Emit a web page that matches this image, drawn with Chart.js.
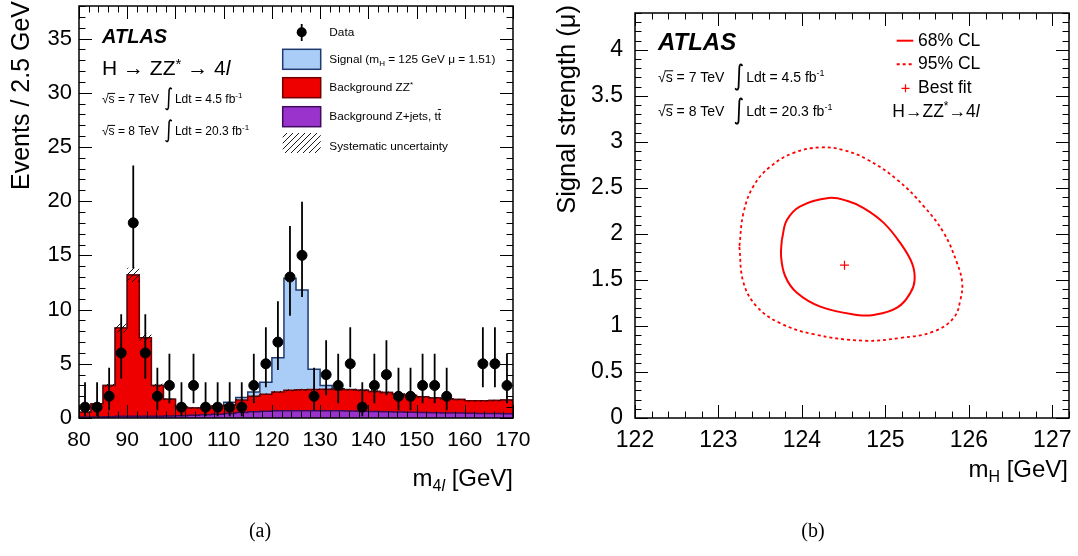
<!DOCTYPE html>
<html>
<head>
<meta charset="utf-8">
<script src="https://cdn.jsdelivr.net/npm/chart.js@4.4.1/dist/chart.umd.min.js"></script>
<style>
  html, body { margin: 0; padding: 0; background: #fff; }
  body { width: 1078px; height: 556px; position: relative; overflow: hidden; }
  canvas { position: absolute; top: 0; }
  #left { left: 0; }
  #right { left: 539px; }
  .cap { position: absolute; top: 519px; width: 60px; text-align: center;
         font-family: "Liberation Serif", serif; font-size: 20px; }
</style>
</head>
<body>
<canvas id="left" width="539" height="556"></canvas>
<canvas id="right" width="539" height="556"></canvas>
<div class="cap" style="left:230px">(a)</div>
<div class="cap" style="left:783px">(b)</div>
<script>
// ---------- (a) m4l distribution ----------
const binLow = [80, 82.5, 85, 87.5, 90, 92.5, 95, 97.5, 100, 102.5, 105, 107.5,
  110, 112.5, 115, 117.5, 120, 122.5, 125, 127.5, 130, 132.5, 135, 137.5,
  140, 142.5, 145, 147.5, 150, 152.5, 155, 157.5, 160, 162.5, 165, 167.5];
const binWidth = 2.5;

const bkgZjets = [0.1, 0.1, 0.12, 0.15, 0.15, 0.15, 0.15, 0.18, 0.2, 0.25, 0.3, 0.35,
  0.42, 0.5, 0.58, 0.63, 0.66, 0.68, 0.68, 0.68, 0.67, 0.66, 0.65, 0.63,
  0.61, 0.58, 0.56, 0.53, 0.51, 0.49, 0.47, 0.45, 0.44, 0.42, 0.41, 0.4];
const bkgZZ = [0.42, 1.22, 2.88, 8.15, 13.05, 7.25, 2.85, 1.54, 0.8, 0.68, 0.6, 0.75,
  0.78, 1.15, 1.42, 1.57, 1.74, 1.87, 1.92, 1.95, 1.98, 1.97, 1.95, 1.92,
  1.84, 1.77, 1.64, 1.55, 1.44, 1.36, 1.3, 1.25, 1.16, 1.16, 1.21, 1.25];
const signal = [0, 0, 0, 0, 0, 0, 0, 0, 0, 0, 0, 0,
  0.25, 0.25, 0.4, 1.1, 3.15, 10.35, 9.2, 1.87, 0.35, 0.07, 0.02, 0,
  0, 0, 0, 0, 0, 0, 0, 0, 0, 0, 0, 0];
const sysUnc = [0.03, 0.06, 0.15, 0.42, 0.65, 0.38, 0.15, 0.08, 0.05, 0.05, 0.05, 0.05,
  0.06, 0.07, 0.08, 0.09, 0.1, 0.1, 0.1, 0.1, 0.1, 0.1, 0.1, 0.1,
  0.1, 0.1, 0.09, 0.09, 0.08, 0.08, 0.08, 0.07, 0.07, 0.07, 0.07, 0.07];

const dataCounts = [1, 1, 2, 6, 18, 6, 2, 3, 1, 3, 1, 1,
  1, 1, 3, 5, 7, 13, 15, 2, 4, 3, 5, 1,
  3, 4, 2, 2, 3, 3, 2, 0, 0, 5, 5, 3];
const dataErrLow = [0.17, 0.17, 0.71, 3.62, 13.8, 3.62, 0.71, 1.37, 0.17, 1.37, 0.17, 0.17,
  0.17, 0.17, 1.37, 2.84, 4.42, 9.44, 11.17, 0.71, 2.09, 1.37, 2.84, 0.17,
  1.37, 2.09, 0.71, 0.71, 1.37, 1.37, 0.71, null, null, 2.84, 2.84, 1.37];
const dataErrHigh = [3.3, 3.3, 4.64, 9.58, 23.3, 9.58, 4.64, 5.92, 3.3, 5.92, 3.3, 3.3,
  3.3, 3.3, 5.92, 8.38, 10.77, 17.7, 19.95, 4.64, 7.16, 5.92, 8.38, 3.3,
  5.92, 7.16, 4.64, 4.64, 5.92, 5.92, 4.64, null, null, 8.38, 8.38, 5.92];

// ---------- (b) likelihood contours (start on the flat left side) ----------
const cl68Mass = [123.76, 123.75, 123.80, 123.94, 124.22, 124.66, 124.86, 125.14, 125.30,
  125.35, 125.32, 125.18, 124.98, 124.74, 124.54, 124.32, 123.98, 123.82];
const cl68Mu = [1.94, 1.76, 1.54, 1.36, 1.21, 1.12, 1.12, 1.20, 1.36,
  1.50, 1.68, 1.90, 2.12, 2.28, 2.36, 2.39, 2.30, 2.15];
const cl95Mass = [123.25, 123.30, 123.46, 123.74, 124.14, 124.74, 125.18, 125.58, 125.82,
  125.90, 125.92, 125.86, 125.70, 125.46, 125.14, 124.78, 124.50, 124.22, 123.90,
  123.62, 123.42, 123.30];
const cl95Mu = [1.86, 1.47, 1.21, 1.03, 0.91, 0.84, 0.87, 0.94, 1.09,
  1.29, 1.47, 1.68, 2.01, 2.30, 2.59, 2.81, 2.91, 2.94, 2.88,
  2.73, 2.52, 2.23];
const bestFitMass = 124.51;
const bestFitMu = 1.66;

// ---------- styling helpers ----------
const FONT = '"Liberation Sans", Arial, sans-serif';
const fnt = (size, style) => (style ? style + ' ' : '') + size + 'px ' + FONT;

const colSignal = '#a9cdf7', colSignalLine = '#1f3a70';
const colZZ = '#ee0000', colZZLine = '#700000';
const colZjets = '#9933cc', colZjetsLine = '#3e0b5e';

const hatch = (() => {
  const c = document.createElement('canvas');
  c.width = 6; c.height = 6;
  const g = c.getContext('2d');
  g.strokeStyle = '#000';
  g.lineWidth = 0.9;
  g.beginPath();
  g.moveTo(0, 6); g.lineTo(6, 0);
  g.moveTo(-1, 1); g.lineTo(1, -1);
  g.moveTo(5, 7); g.lineTo(7, 5);
  g.stroke();
  return g.createPattern(c, 'repeat');
})();

function drawRuns(ctx, x, y, parts, align) {
  ctx.textAlign = 'left';
  let w = 0;
  for (const p of parts) { ctx.font = fnt(p.s, p.f); w += ctx.measureText(p.t).width; }
  let cx = align === 'right' ? x - w : x;
  for (const p of parts) {
    ctx.font = fnt(p.s, p.f);
    ctx.fillText(p.t, cx, y + (p.dy || 0));
    cx += ctx.measureText(p.t).width;
  }
  return cx;
}

function integralSign(ctx, x, yc, h) {
  const t = yc - h / 2, b = yc + h / 2;
  ctx.save();
  ctx.lineWidth = Math.max(1.2, h / 15);
  ctx.lineCap = 'round';
  ctx.beginPath();
  ctx.moveTo(x + h * 0.17, t + h * 0.06);
  ctx.quadraticCurveTo(x + h * 0.1, t - h * 0.03, x + h * 0.07, t + h * 0.12);
  ctx.lineTo(x + h * 0.04, b - h * 0.12);
  ctx.quadraticCurveTo(x + h * 0.01, b + h * 0.03, x - h * 0.07, b - h * 0.06);
  ctx.stroke();
  ctx.restore();
}

function lumiLine(ctx, x, y, size, energy, lumi, intX) {
  ctx.textAlign = 'left';
  ctx.font = fnt(size);
  ctx.fillText('√', x, y);
  const rw = ctx.measureText('√').width;
  ctx.fillText('s = ' + energy + ' TeV', x + rw, y);
  const sw = ctx.measureText('s').width;
  ctx.lineWidth = 1;
  ctx.beginPath();
  ctx.moveTo(x + rw - 1, y - size * 0.8);
  ctx.lineTo(x + rw + sw + 0.5, y - size * 0.8);
  ctx.stroke();
  integralSign(ctx, intX, y - size * 0.35, size * 1.9);
  drawRuns(ctx, intX + size * 0.62, y, [
    { t: 'Ldt = ' + lumi + ' fb', s: size },
    { t: '-1', s: Math.round(size * 0.65), dy: -size * 0.45 }
  ]);
}

function axisFrame(cfg) {
  return {
    id: 'axisFrame',
    afterDatasetsDraw(chart) {
      const { ctx, chartArea: a } = chart;
      const xs = chart.scales.x, ys = chart.scales.y;
      ctx.save();
      ctx.strokeStyle = '#000';
      ctx.lineWidth = 1;
      ctx.beginPath();
      const nx = Math.round((xs.max - xs.min) / cfg.xMinor);
      for (let k = 0; k <= nx; k++) {
        const v = xs.min + k * cfg.xMinor;
        const major = Math.abs(v / cfg.xMajor - Math.round(v / cfg.xMajor)) < 1e-6;
        const len = major ? cfg.major : cfg.minor;
        const px = Math.round(xs.getPixelForValue(v)) + 0.5;
        ctx.moveTo(px, a.bottom); ctx.lineTo(px, a.bottom - len);
        ctx.moveTo(px, a.top); ctx.lineTo(px, a.top + len);
      }
      const ny = Math.round((ys.max - ys.min) / cfg.yMinor);
      for (let k = 0; k <= ny; k++) {
        const v = ys.min + k * cfg.yMinor;
        const major = Math.abs(v / cfg.yMajor - Math.round(v / cfg.yMajor)) < 1e-6;
        const len = major ? cfg.major : cfg.minor;
        const py = Math.round(ys.getPixelForValue(v)) + 0.5;
        ctx.moveTo(a.left, py); ctx.lineTo(a.left + len, py);
        ctx.moveTo(a.right, py); ctx.lineTo(a.right - len, py);
      }
      ctx.stroke();
      ctx.lineWidth = 1.5;
      ctx.strokeRect(a.left, a.top, a.right - a.left, a.bottom - a.top);
      ctx.restore();
    }
  };
}

// fixed axis box sizes, no extra label padding so the plot frame sits where it should
function axisOpts(min, max, step, size, pad, boxSize) {
  return {
    type: 'linear', min: min, max: max,
    grid: { display: false, drawTicks: false },
    border: { display: false },
    ticks: { stepSize: step, includeBounds: false, autoSkip: false, maxRotation: 0,
             color: '#000', font: { family: FONT, size: size }, padding: pad,
             callback: v => String(+v.toFixed(2)) },
    afterFit: s => {
      if (s.isHorizontal()) s.height = boxSize; else s.width = boxSize;
      s.paddingTop = 0; s.paddingBottom = 0; s.paddingLeft = 0; s.paddingRight = 0;
    }
  };
}

// ---------- left chart ----------
const stepData = vals => vals.map((v, i) => ({ x: binLow[i], y: v }))
  .concat([{ x: binLow[binLow.length - 1] + binWidth, y: vals[vals.length - 1] }]);

const stackZjets = bkgZjets;
const stackBkg = bkgZjets.map((v, i) => v + bkgZZ[i]);
const stackAll = stackBkg.map((v, i) => v + signal[i]);
const uncUp = stackBkg.map((v, i) => v + sysUnc[i]);
const uncDown = stackBkg.map((v, i) => v - sysUnc[i]);

const dataPoints = [];
dataCounts.forEach((n, i) => {
  if (n > 0) dataPoints.push({ x: binLow[i] + binWidth / 2, y: n });
});

// stepped 'before' holds each value until the next bin edge
const histLine = (label, vals, fillCol, lineCol, order) => ({
  type: 'line', label: label, data: stepData(vals), stepped: 'before',
  borderColor: lineCol, borderWidth: 1.5, backgroundColor: fillCol,
  fill: 'origin', pointRadius: 0, order: order
});

const errorBars = {
  id: 'errorBars',
  afterDatasetsDraw(chart) {
    const { ctx } = chart;
    const xs = chart.scales.x, ys = chart.scales.y;
    ctx.save();
    ctx.strokeStyle = '#000';
    ctx.lineWidth = 1.8;
    ctx.beginPath();
    dataCounts.forEach((n, i) => {
      if (n <= 0) return;
      const px = xs.getPixelForValue(binLow[i] + binWidth / 2);
      ctx.moveTo(px, ys.getPixelForValue(dataErrLow[i]));
      ctx.lineTo(px, ys.getPixelForValue(dataErrHigh[i]));
    });
    ctx.stroke();
    ctx.restore();
  }
};

const leftText = {
  id: 'leftText',
  afterDraw(chart) {
    const ctx = chart.ctx;
    ctx.save();
    ctx.fillStyle = '#000';
    ctx.strokeStyle = '#000';
    ctx.textBaseline = 'alphabetic';
    // axis titles
    ctx.save();
    ctx.translate(29, 1);
    ctx.rotate(-Math.PI / 2);
    ctx.textAlign = 'right';
    ctx.font = fnt(25);
    ctx.fillText('Events / 2.5 GeV', 0, 0);
    ctx.restore();
    drawRuns(ctx, 513, 486, [
      { t: 'm', s: 24 }, { t: '4', s: 16, dy: 5 }, { t: 'l', s: 16, f: 'italic', dy: 5 },
      { t: ' [GeV]', s: 24 }
    ], 'right');
    // labels
    ctx.font = fnt(20, 'italic bold');
    ctx.textAlign = 'left';
    ctx.fillText('ATLAS', 102, 43);
    drawRuns(ctx, 102, 75, [
      { t: 'H → ZZ', s: 21 }, { t: '*', s: 15, dy: -6 }, { t: ' → 4', s: 21 },
      { t: 'l', s: 21, f: 'italic' }
    ]);
    lumiLine(ctx, 102, 103, 12, '7', '4.5', 167.5);
    lumiLine(ctx, 102, 135, 12, '8', '20.3', 167.5);
    // legend
    ctx.beginPath();
    ctx.arc(301.7, 32.3, 5, 0, 2 * Math.PI);
    ctx.fill();
    ctx.lineWidth = 1.8;
    ctx.beginPath();
    ctx.moveTo(301.7, 24); ctx.lineTo(301.7, 41);
    ctx.stroke();
    const box = (y, fillCol, lineCol) => {
      ctx.fillStyle = fillCol;
      ctx.fillRect(282.7, y, 38, 20);
      if (lineCol) {
        ctx.strokeStyle = lineCol;
        ctx.lineWidth = 1.5;
        ctx.strokeRect(282.7, y, 38, 20);
      }
    };
    box(49.3, colSignal, colSignalLine);
    box(77.7, colZZ, colZZLine);
    box(106.7, colZjets, colZjetsLine);
    box(133, hatch, null);
    ctx.fillStyle = '#000';
    ctx.strokeStyle = '#000';
    ctx.textBaseline = 'middle';
    const lx = 329.3, ls = 11.8;
    drawRuns(ctx, lx, 32.5, [{ t: 'Data', s: ls }]);
    drawRuns(ctx, lx, 59.5, [
      { t: 'Signal (m', s: ls }, { t: 'H', s: 8, dy: 4 }, { t: ' = 125 GeV μ = 1.51)', s: ls }
    ]);
    drawRuns(ctx, lx, 88, [{ t: 'Background ZZ', s: ls }, { t: '*', s: 8, dy: -3 }]);
    const endX = drawRuns(ctx, lx, 117, [{ t: 'Background Z+jets, tt', s: ls }]);
    ctx.font = fnt(ls);
    const tw = ctx.measureText('t').width;
    ctx.lineWidth = 0.9;
    ctx.beginPath();
    ctx.moveTo(endX - tw, 109.5); ctx.lineTo(endX, 109.5);
    ctx.stroke();
    drawRuns(ctx, lx, 146.5, [{ t: 'Systematic uncertainty', s: ls }]);
    ctx.restore();
  }
};

new Chart(document.getElementById('left'), {
  type: 'line',
  data: {
    datasets: [
      { type: 'line', label: 'Data', data: dataPoints, showLine: false,
        pointRadius: 5, pointBackgroundColor: '#000', pointBorderColor: '#000', order: 0 },
      { type: 'line', label: 'Syst up', data: stepData(uncUp), stepped: 'before',
        borderColor: 'rgba(0,0,0,0)', borderWidth: 0, backgroundColor: hatch,
        fill: 2, pointRadius: 0, order: 1 },
      { type: 'line', label: 'Syst down', data: stepData(uncDown), stepped: 'before',
        borderColor: 'rgba(0,0,0,0)', borderWidth: 0, fill: false, pointRadius: 0, order: 1 },
      histLine('Background Z+jets, tt', stackZjets, colZjets, colZjetsLine, 2),
      histLine('Background ZZ*', stackBkg, colZZ, colZZLine, 3),
      histLine('Signal', stackAll, colSignal, colSignalLine, 4)
    ]
  },
  options: {
    responsive: false,
    animation: false,
    events: [],
    layout: { padding: { left: 0, top: 3, right: 26, bottom: 0 } },
    plugins: { legend: { display: false }, tooltip: { enabled: false } },
    scales: {
      x: axisOpts(80, 170, 10, 21, 10, 138),
      y: axisOpts(0, 38, 5, 22, 7, 79)
    }
  },
  plugins: [errorBars, axisFrame({ xMinor: 2, xMajor: 10, yMinor: 1, yMajor: 5, major: 13, minor: 6.5 }), leftText]
});

// ---------- right chart ----------
const loopData = (xs, ys) => xs.map((x, i) => ({ x: x, y: ys[i] })).concat([{ x: xs[0], y: ys[0] }]);

const rightText = {
  id: 'rightText',
  afterDraw(chart) {
    const ctx = chart.ctx;
    ctx.save();
    ctx.fillStyle = '#000';
    ctx.strokeStyle = '#000';
    ctx.textBaseline = 'alphabetic';
    ctx.save();
    ctx.translate(36, 5);
    ctx.rotate(-Math.PI / 2);
    ctx.textAlign = 'right';
    ctx.font = fnt(25.5);
    ctx.fillText('Signal strength (μ)', 0, 0);
    ctx.restore();
    drawRuns(ctx, 529, 477, [
      { t: 'm', s: 24 }, { t: 'H', s: 16, dy: 5 }, { t: ' [GeV]', s: 24 }
    ], 'right');
    ctx.font = fnt(24, 'italic bold');
    ctx.textAlign = 'left';
    ctx.fillText('ATLAS', 119, 50);
    lumiLine(ctx, 119, 82, 14, '7', '4.5', 198.5);
    lumiLine(ctx, 119, 116, 14, '8', '20.3', 198.5);
    // legend
    ctx.strokeStyle = '#ff0000';
    ctx.lineWidth = 2;
    ctx.beginPath();
    ctx.moveTo(357.7, 40.7); ctx.lineTo(374.3, 40.7);
    ctx.stroke();
    ctx.setLineDash([3, 3]);
    ctx.beginPath();
    ctx.moveTo(357.7, 64.3); ctx.lineTo(374.3, 64.3);
    ctx.stroke();
    ctx.setLineDash([]);
    ctx.lineWidth = 1.2;
    ctx.beginPath();
    ctx.moveTo(362.5, 88.3); ctx.lineTo(370.5, 88.3);
    ctx.moveTo(366.5, 84.3); ctx.lineTo(366.5, 92.3);
    ctx.stroke();
    ctx.fillStyle = '#000';
    ctx.textBaseline = 'middle';
    const s = 17.5;
    drawRuns(ctx, 379, 41, [{ t: '68% CL', s: s }]);
    drawRuns(ctx, 379, 64.5, [{ t: '95% CL', s: s }]);
    drawRuns(ctx, 379, 88.5, [{ t: 'Best fit', s: s }]);
    drawRuns(ctx, 353.3, 112, [
      { t: 'H→ZZ', s: s }, { t: '*', s: 12, dy: -5 }, { t: '→4', s: s }, { t: 'l', s: s, f: 'italic' }
    ]);
    ctx.restore();
  }
};

new Chart(document.getElementById('right'), {
  type: 'line',
  data: {
    datasets: [
      { label: 'Best fit', data: [{ x: bestFitMass, y: bestFitMu }], showLine: false,
        pointStyle: 'cross', pointRadius: 4.5, borderColor: '#ff0000', borderWidth: 1.2 },
      { label: '68% CL', data: loopData(cl68Mass, cl68Mu), borderColor: '#ff0000',
        borderWidth: 2, pointRadius: 0, tension: 0.4, fill: false },
      { label: '95% CL', data: loopData(cl95Mass, cl95Mu), borderColor: '#ff0000',
        borderWidth: 1.8, borderDash: [3, 3], pointRadius: 0, tension: 0.4, fill: false }
    ]
  },
  options: {
    responsive: false,
    animation: false,
    events: [],
    layout: { padding: { left: 0, top: 13, right: 9, bottom: 0 } },
    plugins: { legend: { display: false }, tooltip: { enabled: false } },
    scales: {
      x: axisOpts(122, 127.2, 1, 23, 9, 138),
      y: axisOpts(0, 4.4, 0.5, 23, 12, 96)
    }
  },
  plugins: [axisFrame({ xMinor: 0.2, xMajor: 1, yMinor: 0.1, yMajor: 0.5, major: 13, minor: 6.5 }), rightText]
});
</script>
</body>
</html>
